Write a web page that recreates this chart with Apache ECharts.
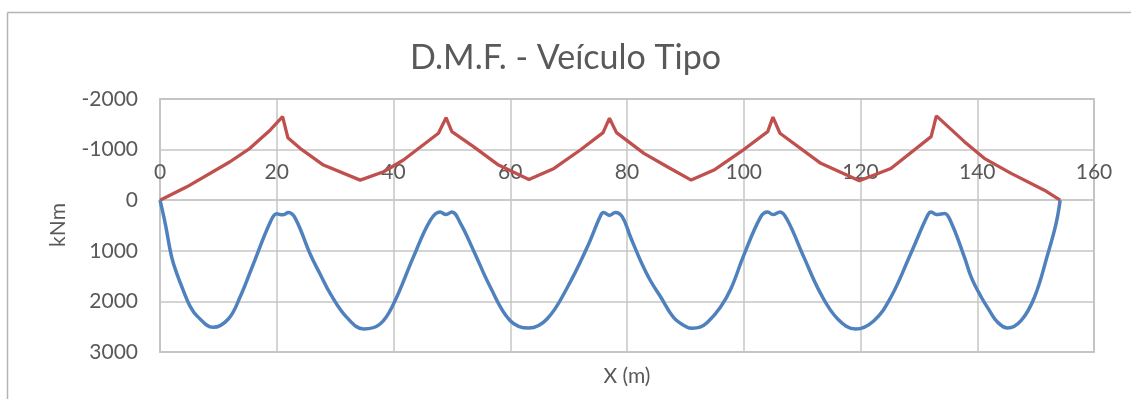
<!DOCTYPE html>
<html>
<head>
<meta charset="utf-8">
<script src="https://cdn.jsdelivr.net/npm/echarts@6/dist/echarts.min.js"></script>
<style>
html,body{margin:0;padding:0;background:#fff;}
#c{width:1131px;height:399px;}
</style>
</head>
<body>
<div id="c"></div>
<script>
const titleText = 'D.M.F. - Veículo Tipo';
const xName = 'X (m)';
const yName = 'kNm';

// Positive moments (blue)
const posX = [0,0.9,2.0,2.9,4.0,5.1,6.3,9.1,11.7,13.7,16.0,18.9,20.0,21.0,22.0,23.2,25.7,27.4,29.2,32.0,34.9,37.7,40.0,43.4,46.3,48.0,49.0,50.0,51.5,53.7,56.6,60.0,63.2,66.3,69.8,73.2,75.5,76.0,77.0,78.0,79.2,80.6,82.3,84.0,85.8,88.0,90.3,91.2,92.5,93.8,96.0,97.8,100.0,102.9,104.1,105.0,106.2,107.5,110.3,113.2,116.1,119.2,122.3,125.2,128.6,131.5,132.1,133.0,134.4,135.5,137.8,139.0,140.7,142.1,143.5,145.2,147.5,149.8,152.1,153.5,154.2];
const posM = [0,463,1125,1455,1786,2083,2282,2513,2348,1918,1257,430,270,290,245,364,1058,1455,1852,2315,2546,2447,2050,1125,397,232,285,232,463,992,1720,2381,2527,2348,1720,926,298,245,300,245,331,728,1190,1587,1918,2320,2510,2530,2510,2414,2117,1750,1091,331,232,285,232,397,1125,1852,2348,2546,2381,1918,1058,298,232,285,264,430,1125,1530,1918,2183,2414,2527,2381,1918,1058,463,0];

// Negative moments (red)
const negX = [0,4.6,12.0,15.4,18.9,21.0,21.9,24.0,28.0,34.3,38.3,41.7,47.7,49.0,50.0,53.7,58.0,63.2,67.5,72.0,75.9,77.0,78.2,82.9,86.9,91.0,94.9,99.5,104.1,105.0,106.2,113.2,119.8,125.2,132.1,133.0,137.8,141.2,145.8,151.5,154.2];
const negM = [0,-264,-760,-1025,-1389,-1653,-1236,-1025,-694,-397,-562,-794,-1323,-1630,-1355,-1058,-694,-410,-628,-992,-1336,-1621,-1336,-926,-661,-397,-595,-958,-1355,-1641,-1323,-728,-384,-628,-1256,-1667,-1157,-827,-530,-198,0];

const xTicks = {min: 0, max: 160, step: 20};
const yTicks = {min: -2000, max: 3000, step: 1000};

const chart = echarts.init(document.getElementById('c'), null, {renderer: 'canvas'});
const FONT = 'Lato, sans-serif';
const TXT = '#595959';
const GRIDC = '#C6C6C6';

chart.setOption({
  animation: false,
  backgroundColor: '#fff',
  title: {
    text: titleText,
    left: 'center',
    top: 36,
    textStyle: {fontFamily: FONT, fontSize: 34, fontWeight: 'normal', color: TXT}
  },
  graphic: [
    {type: 'line', shape: {x1: 7.5, y1: 12.5, x2: 1131, y2: 12.5}, style: {stroke: '#B4B4B4', lineWidth: 1.5}},
    {type: 'line', shape: {x1: 7.5, y1: 12.5, x2: 7.5, y2: 399}, style: {stroke: '#B4B4B4', lineWidth: 1.5}},
    {type: 'text', x: 627, y: 376, style: {text: xName, fontSize: 21, fontFamily: FONT, fill: TXT, align: 'center', verticalAlign: 'middle'}},
    {type: 'text', x: 58, y: 225, rotation: Math.PI / 2, style: {text: yName, fontSize: 21, fontFamily: FONT, fill: TXT, align: 'center', verticalAlign: 'middle'}}
  ],
  grid: {left: 160, right: 37, top: 99, bottom: 47, show: true, borderColor: '#ABABAB', borderWidth: 1.5},
  xAxis: {
    type: 'value',
    position: 'top',
    offset: -101,
    min: xTicks.min, max: xTicks.max, interval: xTicks.step,
    axisLine: {onZero: false, lineStyle: {color: GRIDC, width: 1.5}},
    axisTick: {show: false},
    axisLabel: {color: TXT, fontFamily: FONT, fontSize: 21, margin: 17, formatter: v => String(v)},
    splitLine: {show: true, lineStyle: {color: GRIDC, width: 1.5}}
  },
  yAxis: {
    type: 'value',
    inverse: true,
    min: yTicks.min, max: yTicks.max, interval: yTicks.step,
    axisLine: {show: true, onZero: false, lineStyle: {color: GRIDC, width: 1.5}},
    axisTick: {show: false},
    axisLabel: {color: TXT, fontFamily: FONT, fontSize: 21, margin: 22, formatter: v => String(v)},
    splitLine: {show: true, lineStyle: {color: GRIDC, width: 1.5}}
  },
  series: [
    {
      type: 'line', name: 'neg',
      data: negX.map((x, i) => [x, negM[i]]),
      showSymbol: false, smooth: false,
      lineStyle: {color: '#C0504D', width: 3.3},
      z: 3
    },
    {
      type: 'line', name: 'pos',
      data: posX.map((x, i) => [x, posM[i]]),
      showSymbol: false, smooth: 0.4,
      lineStyle: {color: '#4F81BD', width: 3.5},
      z: 3
    }
  ]
});
</script>
</body>
</html>
